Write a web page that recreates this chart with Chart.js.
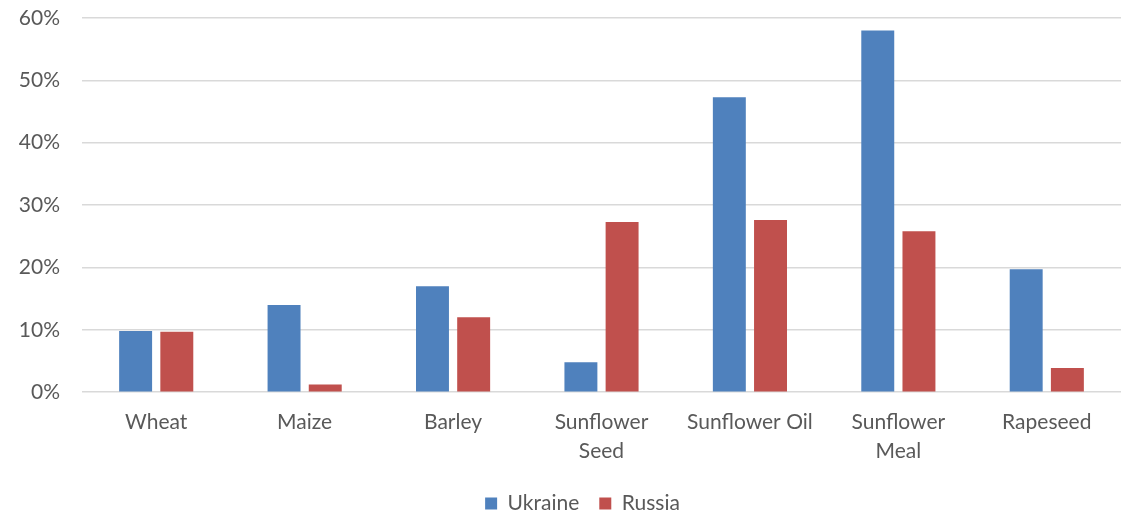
<!DOCTYPE html>
<html>
<head>
<meta charset="utf-8">
<script src="https://cdn.jsdelivr.net/npm/chart.js@4/dist/chart.umd.min.js"></script>
<style>
  html, body { margin: 0; padding: 0; background: #ffffff; }
  #wrap { width: 1122px; height: 516px; }
</style>
</head>
<body>
<div id="wrap"><canvas id="chart" width="1122" height="516"></canvas></div>
<script>
// Share of world exports by commodity (%)
const categories = ['Wheat', 'Maize', 'Barley', ['Sunflower', 'Seed'], 'Sunflower Oil', ['Sunflower', 'Meal'], 'Rapeseed'];
const ukraine = [9.8, 14.0, 17.0, 4.8, 47.3, 58.0, 19.7];
const russia  = [9.7, 1.25, 12.0, 27.3, 27.6, 25.8, 3.9];
const yTicks  = [0, 10, 20, 30, 40, 50, 60];

const textColor = '#595959';
const fontFamily = 'Lato, "Open Sans", sans-serif';

// Nudge the legend row to sit a little right of the canvas centre
const legendOffset = {
  id: 'legendOffset',
  afterLayout(chart) {
    const lg = chart.legend;
    if (lg) { lg.left += 22; lg.right += 22; }
  }
};

new Chart(document.getElementById('chart'), {
  type: 'bar',
  data: {
    labels: categories,
    datasets: [
      { label: 'Ukraine', data: ukraine, backgroundColor: '#4F81BD' },
      { label: 'Russia',  data: russia,  backgroundColor: '#C0504D' }
    ]
  },
  plugins: [legendOffset],
  options: {
    responsive: false,
    animation: false,
    datasets: { bar: { categoryPercentage: 0.555, barPercentage: 0.8 } },
    layout: { autoPadding: false, padding: { top: 18, right: 1, left: 0, bottom: -8 } },
    plugins: {
      tooltip: { enabled: false },
      legend: {
        position: 'bottom',
        labels: {
          boxWidth: 12, boxHeight: 12, padding: 20,
          color: textColor,
          font: { family: fontFamily, size: 21 }
        }
      }
    },
    scales: {
      x: {
        grid: { display: false, drawTicks: false },
        border: { display: false },
        afterFit: (scale) => { scale.height -= 8; },
        ticks: {
          color: textColor, padding: 15, maxRotation: 0, autoSkip: false,
          font: { family: fontFamily, size: 21, lineHeight: 1.4 }
        }
      },
      y: {
        min: 0, max: 60,
        afterBuildTicks: (scale) => { scale.ticks = yTicks.map(v => ({ value: v })); },
        afterFit: (scale) => {
          scale.width = 82;
          scale.paddingTop = 0;
          scale.paddingBottom = 0;
        },
        grid: { color: '#D9D9D9', lineWidth: 1.5, drawTicks: false },
        border: { display: false },
        ticks: {
          color: textColor, padding: 22,
          font: { family: fontFamily, size: 21 },
          callback: (v) => v + '%'
        }
      }
    }
  }
});
</script>
</body>
</html>
